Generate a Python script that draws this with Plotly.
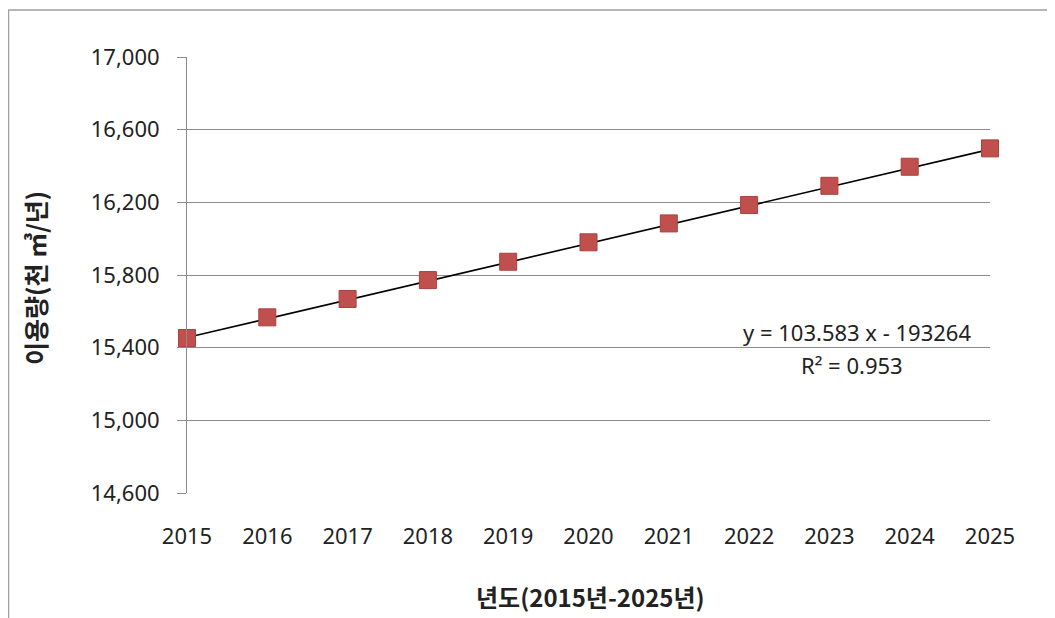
import plotly.graph_objects as go

years = [2015, 2016, 2017, 2018, 2019, 2020, 2021, 2022, 2023, 2024, 2025]
usage = [15453, 15567, 15668, 15772, 15873, 15980, 16084, 16185, 16291, 16396, 16497]
trend_slope = 103.583
trend_intercept = -193264
y_ticks = [14600, 15000, 15400, 15800, 16200, 16600, 17000]
equation_text = "y = 103.583 x - 193264"
r2_text = "R² = 0.953"
x_title = "년도(2015년-2025년)"
y_title = "이용량(천 ㎥/년)"

# page body has an 8px margin; figure coords = screen coords - 8
OFF = 8
W, H = 1055 - OFF, 618 - OFF
L, R, T, B = 187 - OFF, 65, 57 - OFF, 125
pw, ph = W - L - R, H - T - B


def px_x(sx):
    return (sx - OFF - L) / pw


def px_y(sy):
    return (T + ph - (sy - OFF)) / ph


trend_x = [years[0], years[-1]]
trend_y = [trend_slope * x + trend_intercept for x in trend_x]

fig = go.Figure()
fig.add_trace(go.Scatter(
    x=trend_x, y=trend_y, mode="lines",
    line=dict(color="#000000", width=1.6),
    hoverinfo="skip", showlegend=False, cliponaxis=False,
))
fig.add_trace(go.Scatter(
    x=years, y=usage, mode="markers",
    marker=dict(symbol="square", size=17, color="#C0504D",
                line=dict(color="#A8403E", width=1)),
    showlegend=False, cliponaxis=False,
))

font_main = "Noto Sans, Noto Sans CJK KR, sans-serif"
font_kr = "Noto Sans CJK KR, Noto Sans, sans-serif"
txt = "#222222"

fig.update_layout(
    width=W, height=H,
    margin=dict(l=L, r=R, t=T, b=B, autoexpand=False),
    paper_bgcolor="white", plot_bgcolor="white",
    font=dict(family=font_main, size=22, color=txt),
    xaxis=dict(
        range=[years[0], years[-1]], tickmode="array", tickvals=years,
        ticktext=[str(y) for y in years],
        showgrid=False, zeroline=False, showline=False,
        ticks="", ticklabelstandoff=28,
        tickfont=dict(family=font_main, size=22, color=txt),
    ),
    yaxis=dict(
        range=[y_ticks[0], y_ticks[-1]], tickmode="array", tickvals=y_ticks,
        ticktext=[f"{v:,}" for v in y_ticks],
        showgrid=True, gridcolor="#8C8C8C", gridwidth=1,
        zeroline=False, showline=True, linecolor="#8C8C8C", linewidth=1,
        ticks="outside", ticklen=9, tickcolor="#8C8C8C", ticklabelstandoff=13,
        tickfont=dict(family=font_main, size=22, color=txt),
    ),
    annotations=[
        dict(text=f"<b>{x_title}</b>", xref="paper", yref="paper",
             x=px_x(590), y=px_y(596), xanchor="center", yanchor="middle",
             showarrow=False, font=dict(family=font_kr, size=24, color=txt)),
        dict(text=f"<b>{y_title}</b>", xref="paper", yref="paper",
             x=px_x(35), y=px_y(278),
             xanchor="center", yanchor="middle", textangle=-90,
             showarrow=False, font=dict(family=font_kr, size=25, color=txt)),
        dict(text=equation_text, xref="paper", yref="paper",
             x=px_x(857), y=px_y(332), xanchor="center", yanchor="middle",
             showarrow=False, font=dict(family=font_main, size=22, color=txt)),
        dict(text=r2_text, xref="paper", yref="paper",
             x=px_x(852), y=px_y(365), xanchor="center", yanchor="middle",
             showarrow=False, font=dict(family=font_main, size=22, color=txt)),
    ],
    shapes=[
        dict(type="rect", xref="paper", yref="paper",
             x0=px_x(8.5), x1=px_x(1080),
             y0=px_y(700), y1=px_y(10),
             line=dict(color="#A0A0A0", width=1.5), fillcolor="rgba(0,0,0,0)",
             layer="below"),
    ],
)

fig.write_html("out.html")
